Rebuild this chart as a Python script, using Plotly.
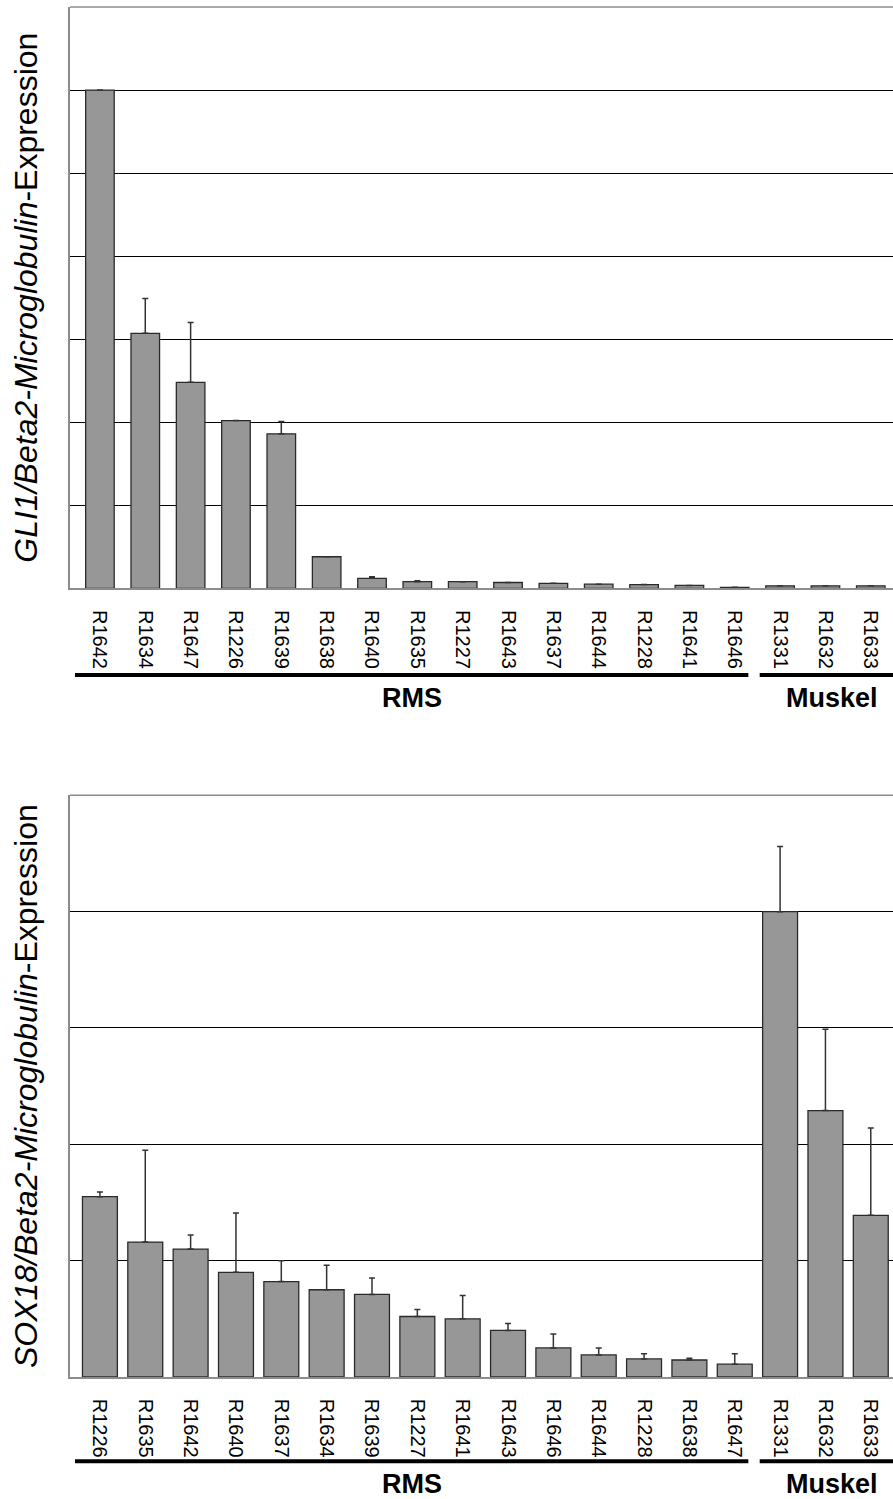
import plotly.graph_objects as go

# ---------------- data ----------------
gli1_samples = ["R1642", "R1634", "R1647", "R1226", "R1639", "R1638", "R1640", "R1635",
                "R1227", "R1643", "R1637", "R1644", "R1228", "R1641", "R1646",
                "R1331", "R1632", "R1633"]
gli1_values = [6.0, 3.07, 2.48, 2.02, 1.86, 0.38, 0.12, 0.08,
               0.08, 0.07, 0.06, 0.05, 0.045, 0.035, 0.012,
               0.03, 0.03, 0.03]
gli1_err = [0.0, 0.42, 0.72, 0.0, 0.15, 0.0, 0.02, 0.01,
            0.0, 0.0, 0.0, 0.0, 0.0, 0.0, 0.0,
            0.0, 0.0, 0.0]

sox18_samples = ["R1226", "R1635", "R1642", "R1640", "R1637", "R1634", "R1639", "R1227",
                 "R1641", "R1643", "R1646", "R1644", "R1228", "R1638", "R1647",
                 "R1331", "R1632", "R1633"]
sox18_values = [1.55, 1.16, 1.10, 0.90, 0.82, 0.75, 0.71, 0.52,
                0.50, 0.40, 0.25, 0.19, 0.155, 0.146, 0.11,
                4.00, 2.29, 1.39]
sox18_err = [0.04, 0.79, 0.12, 0.51, 0.18, 0.21, 0.14, 0.06,
             0.20, 0.06, 0.12, 0.06, 0.045, 0.015, 0.09,
             0.56, 0.70, 0.75]

groups = ["RMS", "Muskel"]
group_sizes = [15, 3]

gli1_title = "<i>GLI1/Beta2-Microglobulin</i>-Expression"
sox18_title = "<i>SOX18/Beta2-Microglobulin</i>-Expression"

# ---------------- figure ----------------
FONT = "Arial, Liberation Sans, sans-serif"
BAR_FILL = "#979797"
BAR_LINE = "#2a2a2a"
AXIS_GRAY = "#8c8c8c"

fig = go.Figure()

fig.add_trace(go.Bar(
    x=list(range(len(gli1_samples))), y=gli1_values,
    width=0.63,
    marker=dict(color=BAR_FILL, line=dict(color=BAR_LINE, width=1.3)),
    error_y=dict(type="data", symmetric=False, array=gli1_err,
                 arrayminus=[0] * len(gli1_err), color="#333333", thickness=1.5, width=3),
    xaxis="x", yaxis="y", showlegend=False,
))
fig.add_trace(go.Bar(
    x=list(range(len(sox18_samples))), y=sox18_values,
    width=0.77,
    marker=dict(color=BAR_FILL, line=dict(color=BAR_LINE, width=1.3)),
    error_y=dict(type="data", symmetric=False, array=sox18_err,
                 arrayminus=[0] * len(sox18_err), color="#333333", thickness=1.5, width=3),
    xaxis="x2", yaxis="y2", showlegend=False,
))

xrange = [-0.66, 17.49]
xcommon = dict(range=xrange, showgrid=False, zeroline=False, showline=True,
               linecolor=AXIS_GRAY, linewidth=1.5, mirror=False,
               tickmode="array", tickangle=90, ticks="",
               tickfont=dict(family=FONT, size=20, color="black"),
               ticklabelstandoff=16)
ycommon = dict(showgrid=True, gridcolor="black", gridwidth=1, zeroline=False,
               showline=True, linecolor=AXIS_GRAY, linewidth=1.5,
               showticklabels=False, ticks="",
               title=dict(font=dict(family=FONT, size=32, color="black"), standoff=21))

fig.update_layout(
    width=893, height=1499,
    margin=dict(l=70, r=0, t=7, b=122),
    plot_bgcolor="white", paper_bgcolor="white",
    bargap=0.3,
    xaxis=dict(xcommon, anchor="y", tickvals=list(range(len(gli1_samples))), ticktext=gli1_samples),
    yaxis=dict(ycommon, domain=[0.5757, 1.0], range=[0, 7], dtick=1, anchor="x",
               title=dict(ycommon["title"], text=gli1_title)),
    xaxis2=dict(xcommon, anchor="y2", tickvals=list(range(len(sox18_samples))), ticktext=sox18_samples),
    yaxis2=dict(ycommon, domain=[0.0, 0.4246], range=[0, 5], dtick=1, anchor="x2",
                title=dict(ycommon["title"], text=sox18_title)),
)

# top frame lines of each panel
for yref in ["y domain", "y2 domain"]:
    fig.add_shape(type="line", xref="paper", yref=yref, x0=0, x1=1, y0=1, y1=1,
                  line=dict(color=AXIS_GRAY, width=1.5))

# group brackets and labels
panels = [("x", "y domain", -0.149, -0.188), ("x2", "y2 domain", -0.145, -0.184)]
for xref, yref, line_y, text_y in panels:
    start = 0
    for g, n in zip(groups, group_sizes):
        end = start + n - 1
        x0 = start - 0.55 if start == 0 else start - 0.45
        x1 = end + 0.3 if g == "RMS" else end + 0.7
        fig.add_shape(type="line", xref=xref, yref=yref, x0=x0, x1=x1, y0=line_y, y1=line_y,
                      line=dict(color="black", width=4))
        cx = (x0 + x1) / 2 if g == "RMS" else end - 0.85
        fig.add_annotation(x=cx, y=text_y, xref=xref, yref=yref, text=f"<b>{g}</b>",
                           showarrow=False, xanchor="center", yanchor="middle",
                           font=dict(family=FONT, size=27, color="black"))
        start += n

fig.write_html("out.html", config={"displayModeBar": False},
               post_script="document.body.style.margin='0px';document.body.style.padding='0px';")
